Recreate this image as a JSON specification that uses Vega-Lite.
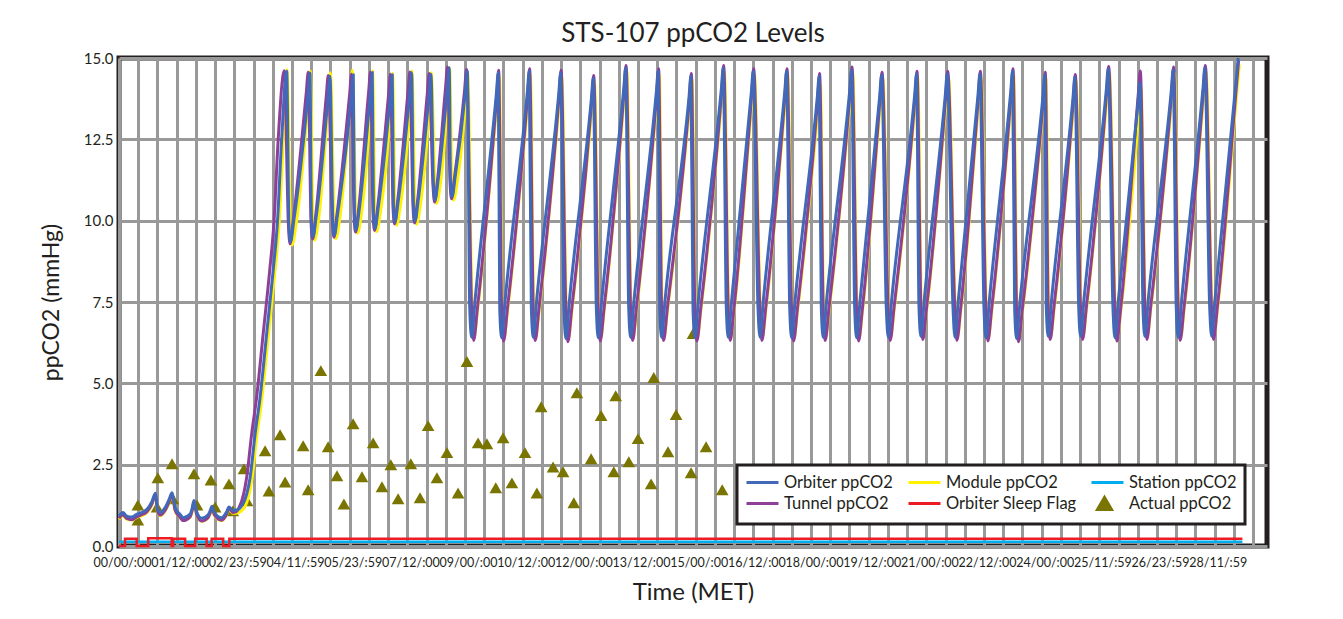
{
"$schema":"https://vega.github.io/schema/vega-lite/v6.json",
"width":1148,"height":488,
"autosize":{"type":"none"},
"padding":{"left":119,"top":58,"right":76,"bottom":73},
"background":"#ffffff",
"title":{"text":"STS-107 ppCO2 Levels","frame":"group","anchor":"middle","fontSize":26,"fontWeight":"normal","font":"Lato","color":"#231f20","offset":4},
"config":{"font":"Lato","view":{"stroke":"#231f20","strokeWidth":5},
"axis":{"labelFont":"Lato","titleFont":"Lato","labelColor":"#231f20","titleColor":"#231f20","titleFontWeight":"normal","ticks":false,"tickSize":0,"domain":false,"grid":true,"gridColor":"#999999","gridWidth":3,"gridOpacity":1},
"legend":{"title":null,"orient":"none","legendX":618,"legendY":407,"columns":3,"columnPadding":8,"rowPadding":0,"padding":8,"labelFont":"Lato","labelFontSize":16.5,"labelColor":"#231f20","labelOffset":20,"labelLimit":400,"symbolSize":256,"symbolType":"M-1,0H3","symbolStrokeWidth":3,"strokeColor":"#231f20","fillColor":"#ffffff"}},
"datasets":{
"actual":[{"day":0.49,"value":1.26},{"day":0.49,"value":0.8},{"day":1.01,"value":2.1},{"day":0.99,"value":1.2},{"day":1.38,"value":2.53},{"day":1.4,"value":1.45},{"day":1.95,"value":2.22},{"day":2.03,"value":1.26},{"day":2.39,"value":2.03},{"day":2.5,"value":1.2},{"day":2.86,"value":1.91},{"day":2.96,"value":1.08},{"day":3.25,"value":2.37},{"day":3.33,"value":1.39},{"day":3.8,"value":2.93},{"day":3.9,"value":1.69},{"day":4.19,"value":3.42},{"day":4.32,"value":1.97},{"day":4.79,"value":3.08},{"day":4.92,"value":1.73},{"day":5.25,"value":5.39},{"day":5.44,"value":3.05},{"day":5.67,"value":2.16},{"day":5.85,"value":1.29},{"day":6.09,"value":3.76},{"day":6.32,"value":2.13},{"day":6.61,"value":3.17},{"day":6.84,"value":1.82},{"day":7.07,"value":2.5},{"day":7.26,"value":1.45},{"day":7.59,"value":2.53},{"day":7.83,"value":1.48},{"day":8.04,"value":3.7},{"day":8.27,"value":2.1},{"day":8.53,"value":2.87},{"day":8.82,"value":1.63},{"day":9.05,"value":5.67},{"day":9.34,"value":3.17},{"day":9.57,"value":3.14},{"day":9.8,"value":1.79},{"day":9.99,"value":3.33},{"day":10.22,"value":1.94},{"day":10.56,"value":2.87},{"day":10.87,"value":1.63},{"day":10.98,"value":4.28},{"day":11.29,"value":2.43},{"day":11.55,"value":2.28},{"day":11.83,"value":1.33},{"day":11.91,"value":4.71},{"day":12.28,"value":2.68},{"day":12.54,"value":4.01},{"day":12.87,"value":2.28},{"day":12.92,"value":4.62},{"day":13.26,"value":2.59},{"day":13.5,"value":3.3},{"day":13.84,"value":1.91},{"day":13.91,"value":5.18},{"day":14.28,"value":2.9},{"day":14.49,"value":4.04},{"day":14.88,"value":2.25},{"day":14.93,"value":6.53},{"day":15.27,"value":3.05},{"day":15.69,"value":1.73}],
"station":[{"day":0,"value":0.13},{"day":29.22,"value":0.13}],
"sleep":[{"day":0,"value":0},{"day":0.156,"value":0.22},{"day":0.46,"value":0},{"day":0.76,"value":0.24},{"day":1.37,"value":0},{"day":1.41,"value":0.22},{"day":1.72,"value":0},{"day":1.98,"value":0.22},{"day":2.28,"value":0},{"day":2.41,"value":0.22},{"day":2.71,"value":0},{"day":2.87,"value":0.22},{"day":29.22,"value":0.22}],
"orbiter":[{"day":0,"value":0.92},{"day":0.1,"value":1.03},{"day":0.2,"value":0.92},{"day":0.33,"value":0.89},{"day":0.47,"value":0.98},{"day":0.59,"value":1.03},{"day":0.72,"value":1.12},{"day":0.85,"value":1.35},{"day":0.95,"value":1.62},{"day":1.0,"value":1.15},{"day":1.07,"value":1.03},{"day":1.2,"value":1.18},{"day":1.31,"value":1.45},{"day":1.38,"value":1.64},{"day":1.46,"value":1.18},{"day":1.59,"value":0.97},{"day":1.67,"value":0.87},{"day":1.85,"value":0.98},{"day":1.9,"value":1.15},{"day":1.95,"value":1.4},{"day":2.02,"value":1.05},{"day":2.15,"value":0.85},{"day":2.32,"value":0.96},{"day":2.37,"value":1.08},{"day":2.42,"value":1.22},{"day":2.48,"value":1.03},{"day":2.67,"value":0.87},{"day":2.8,"value":1.05},{"day":2.86,"value":1.2},{"day":2.96,"value":1.1},{"day":3.04,"value":1.1},{"day":3.19,"value":1.23},{"day":3.32,"value":1.59},{"day":3.41,"value":2.1},{"day":3.54,"value":3.44},{"day":3.67,"value":4.57},{"day":3.84,"value":6.52},{"day":4.01,"value":8.47},{"day":4.12,"value":9.94},{"day":4.23,"value":12.48},
{"day":4.362,"value":14.59},{"day":4.42,"value":9.85},{"day":4.46,"value":9.35},{"day":4.546,"value":10.0},{"day":4.917,"value":13.89},{"day":4.967,"value":14.54},{"day":5.006,"value":10.0},{"day":5.046,"value":9.5},{"day":5.132,"value":10.15},{"day":5.438,"value":13.79},{"day":5.488,"value":14.44},{"day":5.56,"value":10.05},{"day":5.6,"value":9.55},{"day":5.686,"value":10.2},{"day":6.044,"value":13.83},{"day":6.094,"value":14.48},{"day":6.124,"value":10.21},{"day":6.164,"value":9.71},{"day":6.25,"value":10.36},{"day":6.538,"value":13.9},{"day":6.588,"value":14.55},{"day":6.618,"value":10.26},{"day":6.658,"value":9.76},{"day":6.744,"value":10.41},{"day":7.058,"value":13.83},{"day":7.108,"value":14.48},{"day":7.138,"value":10.46},{"day":7.178,"value":9.96},{"day":7.264,"value":10.61},{"day":7.562,"value":13.9},{"day":7.612,"value":14.55},{"day":7.658,"value":10.49},{"day":7.698,"value":9.99},{"day":7.784,"value":10.64},{"day":8.064,"value":13.85},{"day":8.114,"value":14.5},{"day":8.178,"value":11.13},{"day":8.218,"value":10.63},{"day":8.304,"value":11.28},{"day":8.54,"value":14.05},{"day":8.59,"value":14.7},{"day":8.621,"value":11.23},{"day":8.661,"value":10.73},{"day":8.747,"value":11.38},{"day":9.009,"value":13.95},{"day":9.059,"value":14.6},
{"day":9.123,"value":7.32},{"day":9.173,"value":6.42},{"day":9.259,"value":7.52},{"day":9.815,"value":13.89},{"day":9.865,"value":14.54},{"day":9.903,"value":7.3},{"day":9.953,"value":6.4},{"day":10.039,"value":7.5},{"day":10.621,"value":13.94},{"day":10.671,"value":14.59},{"day":10.725,"value":7.32},{"day":10.775,"value":6.42},{"day":10.861,"value":7.52},{"day":11.438,"value":13.89},{"day":11.488,"value":14.54},{"day":11.575,"value":7.28},{"day":11.625,"value":6.38},{"day":11.711,"value":7.48},{"day":12.286,"value":13.73},{"day":12.336,"value":14.38},{"day":12.416,"value":7.3},{"day":12.466,"value":6.4},{"day":12.552,"value":7.5},{"day":13.128,"value":14.04},{"day":13.178,"value":14.69},{"day":13.258,"value":7.32},{"day":13.308,"value":6.42},{"day":13.394,"value":7.52},{"day":13.976,"value":13.94},{"day":14.026,"value":14.59},{"day":14.064,"value":7.32},{"day":14.114,"value":6.42},{"day":14.2,"value":7.52},{"day":14.826,"value":13.79},{"day":14.876,"value":14.44},{"day":14.93,"value":7.3},{"day":14.98,"value":6.4},{"day":15.066,"value":7.5},{"day":15.667,"value":14.04},{"day":15.717,"value":14.69},{"day":15.797,"value":7.32},{"day":15.847,"value":6.42},{"day":15.933,"value":7.52},{"day":16.447,"value":13.94},{"day":16.497,"value":14.59},{"day":16.621,"value":7.32},{"day":16.671,"value":6.42},{"day":16.757,"value":7.52},{"day":17.315,"value":13.94},{"day":17.365,"value":14.59},{"day":17.446,"value":7.3},{"day":17.496,"value":6.4},{"day":17.582,"value":7.5},{"day":18.163,"value":13.79},{"day":18.213,"value":14.44},{"day":18.267,"value":7.32},{"day":18.317,"value":6.42},{"day":18.403,"value":7.52},{"day":19.006,"value":13.99},{"day":19.056,"value":14.64},{"day":19.136,"value":7.3},{"day":19.186,"value":6.4},{"day":19.272,"value":7.5},{"day":19.786,"value":13.83},{"day":19.836,"value":14.48},{"day":19.958,"value":7.32},{"day":20.008,"value":6.42},{"day":20.094,"value":7.52},{"day":20.696,"value":13.86},{"day":20.746,"value":14.51},{"day":20.808,"value":7.35},{"day":20.858,"value":6.45},{"day":20.944,"value":7.55},{"day":21.493,"value":13.86},{"day":21.543,"value":14.51},{"day":21.693,"value":7.32},{"day":21.743,"value":6.42},{"day":21.829,"value":7.52},{"day":22.343,"value":13.86},{"day":22.393,"value":14.51},{"day":22.499,"value":7.3},{"day":22.549,"value":6.4},{"day":22.635,"value":7.5},{"day":23.193,"value":13.94},{"day":23.243,"value":14.59},{"day":23.297,"value":7.28},{"day":23.347,"value":6.38},{"day":23.433,"value":7.48},{"day":24.033,"value":13.83},{"day":24.083,"value":14.48},{"day":24.119,"value":7.35},{"day":24.169,"value":6.45},{"day":24.255,"value":7.55},{"day":24.813,"value":13.76},{"day":24.863,"value":14.41},{"day":24.962,"value":7.35},{"day":25.012,"value":6.45},{"day":25.098,"value":7.55},{"day":25.68,"value":14.01},{"day":25.73,"value":14.66},{"day":25.854,"value":7.3},{"day":25.904,"value":6.4},{"day":25.99,"value":7.5},{"day":26.504,"value":13.6},{"day":26.554,"value":14.25},{"day":26.634,"value":7.35},{"day":26.684,"value":6.45},{"day":26.77,"value":7.55},{"day":27.37,"value":13.99},{"day":27.42,"value":14.64},{"day":27.5,"value":7.32},{"day":27.55,"value":6.42},{"day":27.636,"value":7.52},{"day":28.194,"value":14.04},{"day":28.244,"value":14.69},{"day":28.369,"value":7.35},{"day":28.419,"value":6.45},{"day":28.505,"value":7.55},{"day":29.061,"value":14.35},{"day":29.111,"value":15.0}],
"tunnel":[{"day":0,"value":0.85},{"day":0.1,"value":0.96},{"day":0.2,"value":0.85},{"day":0.33,"value":0.81},{"day":0.47,"value":0.9},{"day":0.59,"value":0.96},{"day":0.72,"value":1.05},{"day":0.85,"value":1.28},{"day":0.95,"value":1.57},{"day":1.0,"value":1.08},{"day":1.07,"value":0.95},{"day":1.2,"value":1.1},{"day":1.31,"value":1.38},{"day":1.38,"value":1.6},{"day":1.46,"value":1.1},{"day":1.59,"value":0.88},{"day":1.67,"value":0.78},{"day":1.85,"value":0.9},{"day":1.9,"value":1.08},{"day":1.95,"value":1.35},{"day":2.02,"value":0.97},{"day":2.15,"value":0.77},{"day":2.32,"value":0.88},{"day":2.37,"value":1.01},{"day":2.42,"value":1.17},{"day":2.48,"value":0.96},{"day":2.67,"value":0.79},{"day":2.8,"value":0.98},{"day":2.86,"value":1.15},{"day":2.96,"value":1.03},{"day":3.04,"value":1.05},{"day":3.13,"value":1.2},{"day":3.24,"value":1.59},{"day":3.32,"value":2.1},{"day":3.45,"value":3.44},{"day":3.58,"value":4.57},{"day":3.75,"value":6.52},{"day":3.92,"value":8.47},{"day":4.03,"value":9.94},{"day":4.14,"value":12.48},
{"day":4.3,"value":14.61},{"day":4.41,"value":9.79},{"day":4.45,"value":9.29},{"day":4.52,"value":9.9},{"day":4.872,"value":13.94},{"day":4.922,"value":14.56},{"day":4.996,"value":9.94},{"day":5.036,"value":9.44},{"day":5.106,"value":10.05},{"day":5.393,"value":13.84},{"day":5.443,"value":14.46},{"day":5.55,"value":9.99},{"day":5.59,"value":9.49},{"day":5.66,"value":10.1},{"day":5.999,"value":13.88},{"day":6.049,"value":14.5},{"day":6.114,"value":10.15},{"day":6.154,"value":9.65},{"day":6.224,"value":10.26},{"day":6.493,"value":13.95},{"day":6.543,"value":14.57},{"day":6.608,"value":10.2},{"day":6.648,"value":9.7},{"day":6.718,"value":10.31},{"day":7.013,"value":13.88},{"day":7.063,"value":14.5},{"day":7.128,"value":10.4},{"day":7.168,"value":9.9},{"day":7.238,"value":10.51},{"day":7.517,"value":13.95},{"day":7.567,"value":14.57},{"day":7.648,"value":10.43},{"day":7.688,"value":9.93},{"day":7.758,"value":10.54},{"day":8.019,"value":13.9},{"day":8.069,"value":14.52},{"day":8.168,"value":11.07},{"day":8.208,"value":10.57},{"day":8.278,"value":11.18},{"day":8.495,"value":14.1},{"day":8.545,"value":14.72},{"day":8.611,"value":11.17},{"day":8.651,"value":10.67},{"day":8.721,"value":11.28},{"day":8.99,"value":14.02},{"day":9.04,"value":14.65},
{"day":9.173,"value":7.22},{"day":9.223,"value":6.32},{"day":9.323,"value":7.32},{"day":9.83,"value":13.92},{"day":9.875,"value":14.62},{"day":9.953,"value":7.2},{"day":10.003,"value":6.3},{"day":10.103,"value":7.3},{"day":10.636,"value":13.97},{"day":10.681,"value":14.67},{"day":10.775,"value":7.22},{"day":10.825,"value":6.32},{"day":10.925,"value":7.32},{"day":11.453,"value":13.92},{"day":11.498,"value":14.62},{"day":11.625,"value":7.18},{"day":11.675,"value":6.28},{"day":11.775,"value":7.28},{"day":12.301,"value":13.76},{"day":12.346,"value":14.46},{"day":12.466,"value":7.2},{"day":12.516,"value":6.3},{"day":12.616,"value":7.3},{"day":13.143,"value":14.07},{"day":13.188,"value":14.77},{"day":13.308,"value":7.22},{"day":13.358,"value":6.32},{"day":13.458,"value":7.32},{"day":13.991,"value":13.97},{"day":14.036,"value":14.67},{"day":14.114,"value":7.22},{"day":14.164,"value":6.32},{"day":14.264,"value":7.32},{"day":14.841,"value":13.82},{"day":14.886,"value":14.52},{"day":14.98,"value":7.2},{"day":15.03,"value":6.3},{"day":15.13,"value":7.3},{"day":15.682,"value":14.07},{"day":15.727,"value":14.77},{"day":15.847,"value":7.22},{"day":15.897,"value":6.32},{"day":15.997,"value":7.32},{"day":16.462,"value":13.97},{"day":16.507,"value":14.67},{"day":16.671,"value":7.22},{"day":16.721,"value":6.32},{"day":16.821,"value":7.32},{"day":17.33,"value":13.97},{"day":17.375,"value":14.67},{"day":17.496,"value":7.2},{"day":17.546,"value":6.3},{"day":17.646,"value":7.3},{"day":18.178,"value":13.82},{"day":18.223,"value":14.52},{"day":18.317,"value":7.22},{"day":18.367,"value":6.32},{"day":18.467,"value":7.32},{"day":19.021,"value":14.02},{"day":19.066,"value":14.72},{"day":19.186,"value":7.2},{"day":19.236,"value":6.3},{"day":19.336,"value":7.3},{"day":19.801,"value":13.86},{"day":19.846,"value":14.56},{"day":20.008,"value":7.22},{"day":20.058,"value":6.32},{"day":20.158,"value":7.32},{"day":20.711,"value":13.89},{"day":20.756,"value":14.59},{"day":20.858,"value":7.25},{"day":20.908,"value":6.35},{"day":21.008,"value":7.35},{"day":21.508,"value":13.89},{"day":21.553,"value":14.59},{"day":21.743,"value":7.22},{"day":21.793,"value":6.32},{"day":21.893,"value":7.32},{"day":22.358,"value":13.89},{"day":22.403,"value":14.59},{"day":22.549,"value":7.2},{"day":22.599,"value":6.3},{"day":22.699,"value":7.3},{"day":23.208,"value":13.97},{"day":23.253,"value":14.67},{"day":23.347,"value":7.18},{"day":23.397,"value":6.28},{"day":23.497,"value":7.28},{"day":24.048,"value":13.86},{"day":24.093,"value":14.56},{"day":24.169,"value":7.25},{"day":24.219,"value":6.35},{"day":24.319,"value":7.35},{"day":24.828,"value":13.79},{"day":24.873,"value":14.49},{"day":25.012,"value":7.25},{"day":25.062,"value":6.35},{"day":25.162,"value":7.35},{"day":25.695,"value":14.04},{"day":25.74,"value":14.74},{"day":25.904,"value":7.2},{"day":25.954,"value":6.3},{"day":26.054,"value":7.3},{"day":26.519,"value":13.98},{"day":26.564,"value":14.6},{"day":26.684,"value":7.25},{"day":26.734,"value":6.35},{"day":26.834,"value":7.35},{"day":27.385,"value":14.02},{"day":27.43,"value":14.72},{"day":27.55,"value":7.22},{"day":27.6,"value":6.32},{"day":27.7,"value":7.32},{"day":28.209,"value":14.07},{"day":28.254,"value":14.77},{"day":28.419,"value":7.25},{"day":28.469,"value":6.35},{"day":28.569,"value":7.35},{"day":29.076,"value":14.3},{"day":29.121,"value":14.92}],
"module":[{"day":0,"value":0.82},{"day":0.1,"value":0.93},{"day":0.2,"value":0.83},{"day":0.33,"value":0.8},{"day":0.47,"value":0.88},{"day":0.59,"value":0.93},{"day":0.72,"value":1.02},{"day":0.85,"value":1.25},{"day":0.95,"value":1.55},{"day":1.0,"value":1.06},{"day":1.07,"value":0.93},{"day":1.2,"value":1.08},{"day":1.31,"value":1.35},{"day":1.38,"value":1.58},{"day":1.46,"value":1.08},{"day":1.59,"value":0.88},{"day":1.67,"value":0.79},{"day":1.85,"value":0.88},{"day":1.9,"value":1.05},{"day":1.95,"value":1.32},{"day":2.02,"value":0.96},{"day":2.15,"value":0.76},{"day":2.32,"value":0.87},{"day":2.37,"value":0.99},{"day":2.42,"value":1.14},{"day":2.48,"value":0.94},{"day":2.67,"value":0.78},{"day":2.8,"value":0.96},{"day":2.86,"value":1.12},{"day":2.96,"value":1.01},{"day":3.04,"value":1.01},{"day":3.23,"value":1.13},{"day":3.36,"value":1.49},{"day":3.45,"value":2.0},{"day":3.58,"value":3.34},{"day":3.71,"value":4.47},{"day":3.88,"value":6.42},{"day":4.05,"value":8.37},{"day":4.16,"value":9.84},{"day":4.27,"value":12.38},
{"day":4.372,"value":14.64},{"day":4.46,"value":9.75},{"day":4.5,"value":9.25},{"day":4.6,"value":9.85},{"day":4.932,"value":13.89},{"day":4.977,"value":14.59},{"day":5.046,"value":9.9},{"day":5.086,"value":9.4},{"day":5.186,"value":10.0},{"day":5.453,"value":13.79},{"day":5.5,"value":14.55},{"day":5.6,"value":9.95},{"day":5.64,"value":9.45},{"day":5.74,"value":10.05},{"day":6.03,"value":13.95},{"day":6.07,"value":14.62},{"day":6.164,"value":10.11},{"day":6.204,"value":9.61},{"day":6.304,"value":10.21},{"day":6.563,"value":13.9},{"day":6.598,"value":14.6},{"day":6.658,"value":10.16},{"day":6.698,"value":9.66},{"day":6.798,"value":10.26},{"day":7.083,"value":13.83},{"day":7.118,"value":14.53},{"day":7.178,"value":10.36},{"day":7.218,"value":9.86},{"day":7.318,"value":10.46},{"day":7.587,"value":13.9},{"day":7.622,"value":14.6},{"day":7.698,"value":10.39},{"day":7.738,"value":9.89},{"day":7.838,"value":10.49},{"day":8.089,"value":13.85},{"day":8.124,"value":14.55},{"day":8.218,"value":11.03},{"day":8.258,"value":10.53},{"day":8.358,"value":11.13},{"day":8.565,"value":14.05},{"day":8.6,"value":14.7},{"day":8.661,"value":11.13},{"day":8.701,"value":10.63},{"day":8.801,"value":11.23},{"day":9.034,"value":13.95},{"day":9.069,"value":14.55},
{"day":9.183,"value":7.3},{"day":9.233,"value":6.4},{"day":9.333,"value":7.32},{"day":9.845,"value":13.79},{"day":9.895,"value":14.44},{"day":9.963,"value":7.28},{"day":10.013,"value":6.38},{"day":10.113,"value":7.3},{"day":10.651,"value":13.84},{"day":10.701,"value":14.49},{"day":10.785,"value":7.3},{"day":10.835,"value":6.4},{"day":10.935,"value":7.32},{"day":11.468,"value":13.79},{"day":11.518,"value":14.44},{"day":11.635,"value":7.26},{"day":11.685,"value":6.36},{"day":11.785,"value":7.28},{"day":12.316,"value":13.63},{"day":12.366,"value":14.28},{"day":12.476,"value":7.28},{"day":12.526,"value":6.38},{"day":12.626,"value":7.3},{"day":13.158,"value":13.94},{"day":13.208,"value":14.59},{"day":13.318,"value":7.3},{"day":13.368,"value":6.4},{"day":13.468,"value":7.32},{"day":14.006,"value":13.84},{"day":14.056,"value":14.49},{"day":14.124,"value":7.3},{"day":14.174,"value":6.4},{"day":14.274,"value":7.32},{"day":14.856,"value":13.69},{"day":14.906,"value":14.34},{"day":14.99,"value":7.28},{"day":15.04,"value":6.38},{"day":15.14,"value":7.3},{"day":15.697,"value":13.94},{"day":15.747,"value":14.59},{"day":15.857,"value":7.3},{"day":15.907,"value":6.4},{"day":16.007,"value":7.32},{"day":16.477,"value":13.84},{"day":16.527,"value":14.49},{"day":16.681,"value":7.3},{"day":16.731,"value":6.4},{"day":16.831,"value":7.32},{"day":17.345,"value":13.84},{"day":17.395,"value":14.49},{"day":17.506,"value":7.28},{"day":17.556,"value":6.38},{"day":17.656,"value":7.3},{"day":18.193,"value":13.55},{"day":18.243,"value":14.2},{"day":18.327,"value":7.3},{"day":18.377,"value":6.4},{"day":18.477,"value":7.32},{"day":19.036,"value":13.89},{"day":19.086,"value":14.54},{"day":19.196,"value":7.28},{"day":19.246,"value":6.38},{"day":19.346,"value":7.3},{"day":19.816,"value":13.73},{"day":19.866,"value":14.38},{"day":20.018,"value":7.3},{"day":20.068,"value":6.4},{"day":20.168,"value":7.32},{"day":20.726,"value":13.76},{"day":20.776,"value":14.41},{"day":20.868,"value":7.33},{"day":20.918,"value":6.43},{"day":21.018,"value":7.35},{"day":21.523,"value":13.76},{"day":21.573,"value":14.41},{"day":21.753,"value":7.3},{"day":21.803,"value":6.4},{"day":21.903,"value":7.32},{"day":22.373,"value":13.76},{"day":22.423,"value":14.41},{"day":22.559,"value":7.28},{"day":22.609,"value":6.38},{"day":22.709,"value":7.3},{"day":23.223,"value":13.84},{"day":23.273,"value":14.49},{"day":23.357,"value":7.26},{"day":23.407,"value":6.36},{"day":23.507,"value":7.28},{"day":24.063,"value":13.73},{"day":24.113,"value":14.38},{"day":24.179,"value":7.33},{"day":24.229,"value":6.43},{"day":24.329,"value":7.35},{"day":24.843,"value":13.66},{"day":24.893,"value":14.31},{"day":25.022,"value":7.33},{"day":25.072,"value":6.43},{"day":25.172,"value":7.35},{"day":25.71,"value":13.91},{"day":25.76,"value":14.56},{"day":25.914,"value":7.28},{"day":25.964,"value":6.38},{"day":26.064,"value":7.3},{"day":26.534,"value":13.4},{"day":26.584,"value":14.1},{"day":26.694,"value":7.33},{"day":26.744,"value":6.43},{"day":26.844,"value":7.35},{"day":27.4,"value":13.89},{"day":27.45,"value":14.54},{"day":27.56,"value":7.3},{"day":27.61,"value":6.4},{"day":27.71,"value":7.32},{"day":28.224,"value":13.94},{"day":28.274,"value":14.59},{"day":28.429,"value":7.33},{"day":28.479,"value":6.43},{"day":28.579,"value":7.35},{"day":29.091,"value":14.15},{"day":29.141,"value":14.8}]
},
"encoding":{
"x":{"field":"day","type":"quantitative","scale":{"domain":[0,29.86],"nice":false,"zero":false},
"axis":{"values":[0,0.5,1,1.5,2,2.5,3,3.5,4,4.5,5,5.5,6,6.5,7,7.5,8,8.5,9,9.5,10,10.5,11,11.5,12,12.5,13,13.5,14,14.5,15,15.5,16,16.5,17,17.5,18,18.5,19,19.5,20,20.5,21,21.5,22,22.5,23,23.5,24,24.5,25,25.5,26,26.5,27,27.5,28,28.5,29,29.5,30],
"labelExpr":"(datum.value % 1.5 === 0) ? ['00/00/:00','01/12/:00','02/23/:59','04/11/:59','05/23/:59','07/12/:00','09/00/:00','10/12/:00','12/00/:00','13/12/:00','15/00/:00','16/12/:00','18/00/:00','19/12/:00','21/00/:00','22/12/:00','24/00/:00','25/11/:59','26/23/:59','28/11/:59','29/23/:59'][round(datum.value / 1.5)] : ''",
"labelFontSize":12.5,"labelPadding":10,"labelOverlap":false,"labelFlush":false,"labelBound":false,"labelOffset":3,
"title":"Time (MET)","titleFontSize":24,"titlePadding":12,
"gridColor":{"condition":{"test":"datum.value > 29.9","value":"rgba(0,0,0,0)"},"value":"#999999"}}},
"y":{"field":"value","type":"quantitative","scale":{"domain":[0,15],"nice":false},
"axis":{"values":[0,2.5,5,7.5,10,12.5,15],"format":".1f","labelFontSize":15,"labelPadding":6,"title":"ppCO2 (mmHg)","titleFontSize":23,"titlePadding":20}}
},
"layer":[
{"data":{"name":"actual"},"mark":{"type":"point","shape":"triangle-up","filled":true,"size":160,"opacity":1,"strokeWidth":0},
"encoding":{"color":{"datum":"Actual ppCO2","type":"nominal",
"scale":{"domain":["Orbiter ppCO2","Tunnel ppCO2","Module ppCO2","Orbiter Sleep Flag","Station ppCO2","Actual ppCO2"],"range":["#4169b8","#8e3f98","#fff200","#ed1c24","#00aeef","#7a7500"]},
"legend":{"encode":{"legend":{"update":{"stroke":{"value":"#231f20"},"strokeWidth":{"value":3}}},
"symbols":{"update":{"shape":{"signal":"datum.value === 'Actual ppCO2' ? 'M0.625,-0.75L1.5,0.75L-0.25,0.75Z' : 'M-1,0H3'"},"fill":{"signal":"datum.value === 'Actual ppCO2' ? '#7a7500' : 'transparent'"},"stroke":{"signal":"datum.value === 'Actual ppCO2' ? 'transparent' : scale('color', datum.value)"},"strokeWidth":{"value":3},"opacity":{"value":1},"size":{"value":256}}}}}}}},
{"data":{"name":"station"},"mark":{"type":"line","strokeWidth":2.5},
"encoding":{"color":{"datum":"Station ppCO2","type":"nominal","scale":{"domain":["Orbiter ppCO2","Tunnel ppCO2","Module ppCO2","Orbiter Sleep Flag","Station ppCO2","Actual ppCO2"],"range":["#4169b8","#8e3f98","#fff200","#ed1c24","#00aeef","#7a7500"]},
"legend":{"encode":{"legend":{"update":{"stroke":{"value":"#231f20"},"strokeWidth":{"value":3}}},
"symbols":{"update":{"shape":{"signal":"datum.value === 'Actual ppCO2' ? 'M0.625,-0.75L1.5,0.75L-0.25,0.75Z' : 'M-1,0H3'"},"fill":{"signal":"datum.value === 'Actual ppCO2' ? '#7a7500' : 'transparent'"},"stroke":{"signal":"datum.value === 'Actual ppCO2' ? 'transparent' : scale('color', datum.value)"},"strokeWidth":{"value":3},"opacity":{"value":1},"size":{"value":256}}}}}}}},
{"data":{"name":"sleep"},"mark":{"type":"line","strokeWidth":2.5,"interpolate":"step-after"},
"encoding":{"color":{"datum":"Orbiter Sleep Flag","type":"nominal","scale":{"domain":["Orbiter ppCO2","Tunnel ppCO2","Module ppCO2","Orbiter Sleep Flag","Station ppCO2","Actual ppCO2"],"range":["#4169b8","#8e3f98","#fff200","#ed1c24","#00aeef","#7a7500"]},
"legend":{"encode":{"legend":{"update":{"stroke":{"value":"#231f20"},"strokeWidth":{"value":3}}},
"symbols":{"update":{"shape":{"signal":"datum.value === 'Actual ppCO2' ? 'M0.625,-0.75L1.5,0.75L-0.25,0.75Z' : 'M-1,0H3'"},"fill":{"signal":"datum.value === 'Actual ppCO2' ? '#7a7500' : 'transparent'"},"stroke":{"signal":"datum.value === 'Actual ppCO2' ? 'transparent' : scale('color', datum.value)"},"strokeWidth":{"value":3},"opacity":{"value":1},"size":{"value":256}}}}}}}},
{"data":{"name":"module"},"mark":{"type":"line","strokeWidth":3,"interpolate":"monotone"},
"encoding":{"color":{"datum":"Module ppCO2","type":"nominal","scale":{"domain":["Orbiter ppCO2","Tunnel ppCO2","Module ppCO2","Orbiter Sleep Flag","Station ppCO2","Actual ppCO2"],"range":["#4169b8","#8e3f98","#fff200","#ed1c24","#00aeef","#7a7500"]},
"legend":{"encode":{"legend":{"update":{"stroke":{"value":"#231f20"},"strokeWidth":{"value":3}}},
"symbols":{"update":{"shape":{"signal":"datum.value === 'Actual ppCO2' ? 'M0.625,-0.75L1.5,0.75L-0.25,0.75Z' : 'M-1,0H3'"},"fill":{"signal":"datum.value === 'Actual ppCO2' ? '#7a7500' : 'transparent'"},"stroke":{"signal":"datum.value === 'Actual ppCO2' ? 'transparent' : scale('color', datum.value)"},"strokeWidth":{"value":3},"opacity":{"value":1},"size":{"value":256}}}}}}}},
{"data":{"name":"tunnel"},"mark":{"type":"line","strokeWidth":3,"interpolate":"monotone"},
"encoding":{"color":{"datum":"Tunnel ppCO2","type":"nominal","scale":{"domain":["Orbiter ppCO2","Tunnel ppCO2","Module ppCO2","Orbiter Sleep Flag","Station ppCO2","Actual ppCO2"],"range":["#4169b8","#8e3f98","#fff200","#ed1c24","#00aeef","#7a7500"]},
"legend":{"encode":{"legend":{"update":{"stroke":{"value":"#231f20"},"strokeWidth":{"value":3}}},
"symbols":{"update":{"shape":{"signal":"datum.value === 'Actual ppCO2' ? 'M0.625,-0.75L1.5,0.75L-0.25,0.75Z' : 'M-1,0H3'"},"fill":{"signal":"datum.value === 'Actual ppCO2' ? '#7a7500' : 'transparent'"},"stroke":{"signal":"datum.value === 'Actual ppCO2' ? 'transparent' : scale('color', datum.value)"},"strokeWidth":{"value":3},"opacity":{"value":1},"size":{"value":256}}}}}}}},
{"data":{"name":"orbiter"},"mark":{"type":"line","strokeWidth":3,"interpolate":"monotone"},
"encoding":{"color":{"datum":"Orbiter ppCO2","type":"nominal","scale":{"domain":["Orbiter ppCO2","Tunnel ppCO2","Module ppCO2","Orbiter Sleep Flag","Station ppCO2","Actual ppCO2"],"range":["#4169b8","#8e3f98","#fff200","#ed1c24","#00aeef","#7a7500"]},
"legend":{"encode":{"legend":{"update":{"stroke":{"value":"#231f20"},"strokeWidth":{"value":3}}},
"symbols":{"update":{"shape":{"signal":"datum.value === 'Actual ppCO2' ? 'M0.625,-0.75L1.5,0.75L-0.25,0.75Z' : 'M-1,0H3'"},"fill":{"signal":"datum.value === 'Actual ppCO2' ? '#7a7500' : 'transparent'"},"stroke":{"signal":"datum.value === 'Actual ppCO2' ? 'transparent' : scale('color', datum.value)"},"strokeWidth":{"value":3},"opacity":{"value":1},"size":{"value":256}}}}}}}}
]
}
